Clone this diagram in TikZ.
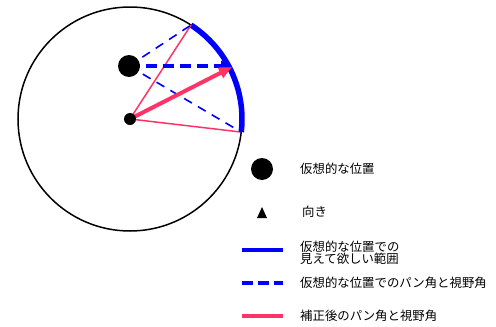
\documentclass[tikz,border=0pt]{standalone}
\usepackage{fontspec}
\newfontfamily\cjk{Noto Sans CJK JP}
\usetikzlibrary{arrows.meta,calc}
\definecolor{myblue}{RGB}{0,0,255}
\definecolor{myred}{RGB}{255,51,102}
\tikzset{
  lbl/.style={anchor=west, inner sep=0pt, font=\cjk\fontsize{12.4}{12}\selectfont, align=left},
  thinred/.style={myred, line width=1.5pt},
  thindash/.style={myblue, line width=1.6pt, dash pattern=on 9pt off 7pt},
  thickdash/.style={myblue, line width=3.5pt, dash pattern=on 11pt off 6pt},
  dot/.style={circle, fill=black, inner sep=0pt},
}
\begin{document}
\begin{tikzpicture}[x=1pt,y=-1pt]
\useasboundingbox (0,0) rectangle (496,327);
% main circle
\coordinate (C) at (130,119);
\node[circle, draw=black, line width=1.5pt, minimum size=224pt, inner sep=0pt] (circ) at (C) {};
\coordinate (A) at ($(C)+(-57:112)$);
\coordinate (B) at ($(C)+(6.7:112)$);
\coordinate (M) at ($(C)+(-27:114.5)$);
\coordinate (V) at (129,66);
% blue arc
\draw[myblue, line width=5.5pt] (A) arc[start angle=-57, end angle=6.7, radius=112];
% red thin lines
\draw[thinred] (C) -- (A);
\draw[thinred] (C) -- (B);
% blue dashed
\draw[thindash] (V) -- (A);
\draw[thindash] (V) -- (B);
\draw[thickdash, -{Triangle[length=11pt,width=10pt]}] (V) -- (M |- V);
% big dot
\node[dot, minimum size=22pt] (vdot) at (V) {};
% red arrow
\draw[myred, line width=4pt, -{Triangle[length=13pt,width=11pt]}] (C) -- (M);
% small dot
\node[dot, minimum size=12pt] (cdot) at (C) {};
% legend
\node[dot, minimum size=22pt] (l1) at (262,169) {};
\node[lbl] (t1) at (300,169) {仮想的な位置};
\fill[black] (262,207) -- (267,218) -- (257,218) -- cycle;
\coordinate (l2) at (262,212);
\node[lbl] (t2) at (302,212) {向き};
\coordinate (l3a) at (242,250); \coordinate (l3b) at (283,250);
\draw[myblue, line width=4pt] (l3a) -- (l3b);
\node[lbl] (t3) at (300,253) {仮想的な位置での\\見えて欲しい範囲};
\coordinate (l4a) at (242,283); \coordinate (l4b) at (283,283);
\draw[myblue, line width=4pt, dash pattern=on 11pt off 5pt] (l4a) -- (l4b);
\node[lbl] (t4) at (300,283) {仮想的な位置でのパン角と視野角};
\coordinate (l5a) at (242,316); \coordinate (l5b) at (283,316);
\draw[myred, line width=4pt] (l5a) -- (l5b);
\node[lbl] (t5) at (300,316) {補正後のパン角と視野角};
\end{tikzpicture}
\end{document}
